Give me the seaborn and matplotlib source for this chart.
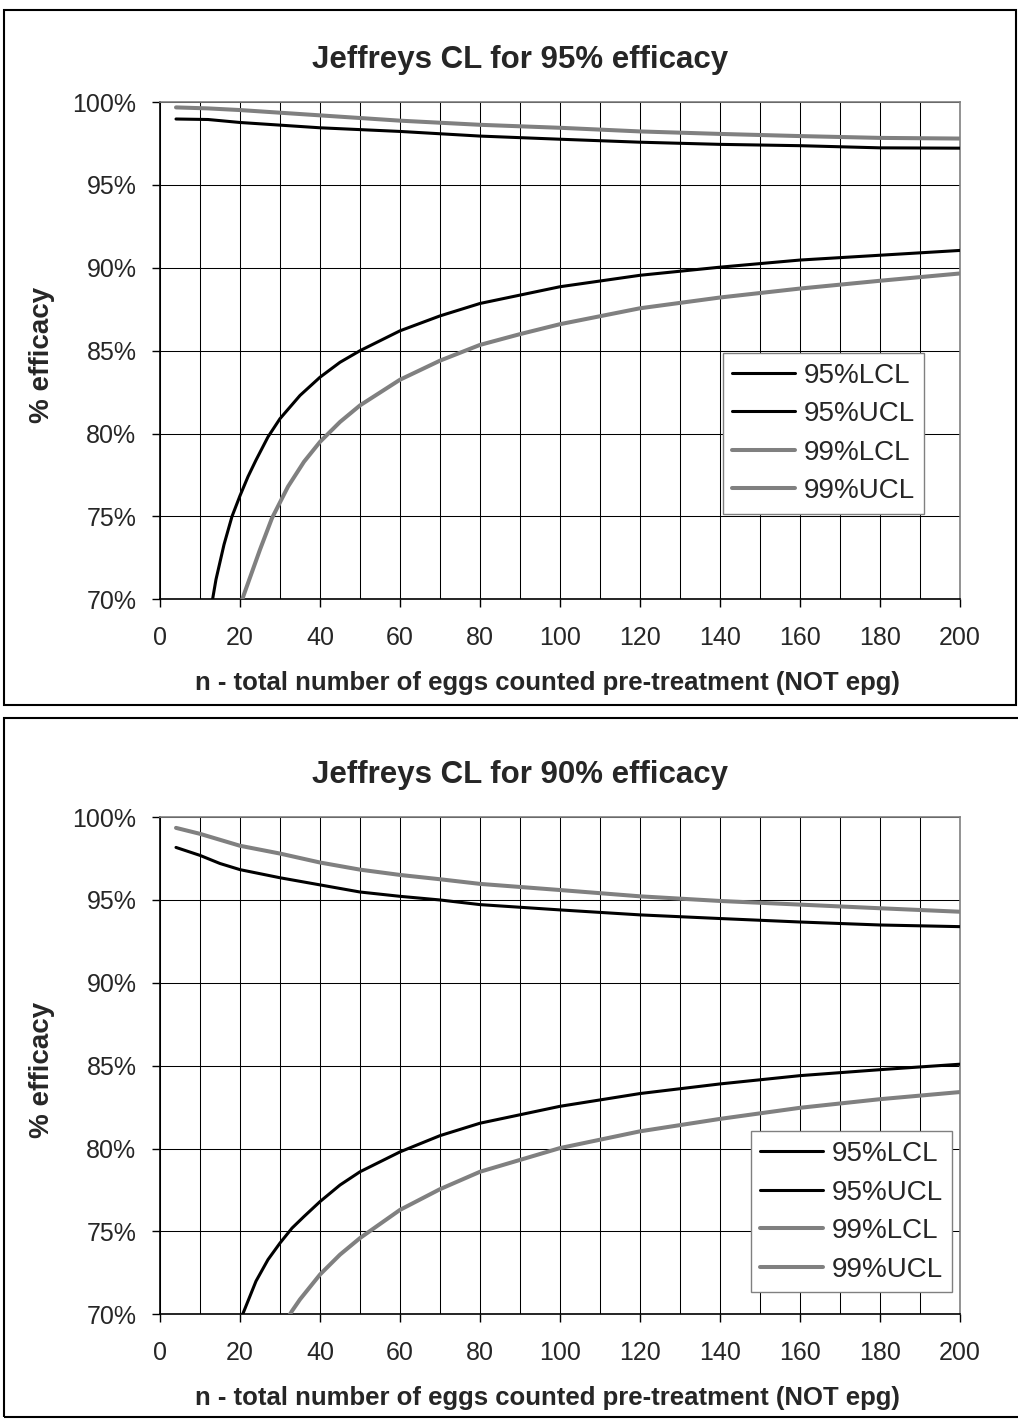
import matplotlib
matplotlib.use("Agg")
import matplotlib.pyplot as plt
from matplotlib.patches import Rectangle
from matplotlib.ticker import MultipleLocator, FuncFormatter
import seaborn as sns
import pandas as pd

# ---- data (n = eggs counted, values in % efficacy) ----
# panel 1: 95% efficacy
p1_ucl99_n = [4, 12, 20, 40, 60, 80, 100, 120, 140, 160, 180, 200]
p1_ucl99 = [99.68, 99.62, 99.52, 99.2, 98.88, 98.63, 98.45, 98.23, 98.08, 97.95, 97.84, 97.8]
p1_ucl95_n = [4, 12, 20, 40, 60, 80, 100, 120, 140, 160, 180, 200]
p1_ucl95 = [98.98, 98.95, 98.77, 98.45, 98.23, 97.95, 97.76, 97.58, 97.45, 97.37, 97.24, 97.22]
p1_lcl95_n = [13, 14, 16, 18, 20, 22, 24, 27, 30, 35, 40, 45, 50, 60, 70, 80, 100, 120, 140, 160, 180, 200]
p1_lcl95 = [69.8, 71.2, 73.3, 75.0, 76.25, 77.4, 78.4, 79.8, 80.9, 82.3, 83.4, 84.3, 85.0, 86.2,
            87.1, 87.85, 88.86, 89.55, 90.04, 90.47, 90.76, 91.05]
p1_lcl99_n = [20, 21, 25, 28, 32, 36, 40, 45, 50, 60, 70, 80, 90, 100, 120, 140, 160, 180, 200]
p1_lcl99 = [69.6, 70.3, 73.0, 74.9, 76.8, 78.3, 79.5, 80.7, 81.7, 83.25, 84.4, 85.35, 86.0, 86.6,
            87.56, 88.21, 88.75, 89.22, 89.66]

# panel 2: 90% efficacy
p2_ucl99_n = [4, 10, 20, 30, 40, 50, 60, 70, 80, 100, 120, 140, 160, 180, 200]
p2_ucl99 = [99.35, 98.99, 98.27, 97.8, 97.26, 96.83, 96.51, 96.25, 95.97, 95.6, 95.22, 94.94, 94.72, 94.5, 94.29]
p2_ucl95_n = [4, 10, 15, 20, 30, 40, 50, 60, 70, 80, 100, 120, 140, 160, 180, 200]
p2_ucl95 = [98.17, 97.69, 97.2, 96.83, 96.34, 95.91, 95.48, 95.22, 95.0, 94.72, 94.4, 94.1, 93.88,
            93.67, 93.49, 93.39]
p2_lcl95_n = [20, 21, 24, 27, 30, 33, 36, 40, 45, 50, 60, 70, 80, 100, 120, 140, 160, 180, 200]
p2_lcl95 = [69.6, 70.2, 72.0, 73.3, 74.3, 75.2, 75.9, 76.8, 77.8, 78.6, 79.8, 80.78, 81.53, 82.55,
            83.32, 83.9, 84.4, 84.76, 85.09]
p2_lcl99_n = [32, 33, 35, 40, 45, 50, 60, 70, 80, 100, 120, 140, 160, 180, 200]
p2_lcl99 = [69.8, 70.2, 70.9, 72.4, 73.6, 74.6, 76.3, 77.55, 78.6, 80.03, 81.04, 81.79, 82.46,
            82.98, 83.41]

titles = ["Jeffreys CL for 95% efficacy", "Jeffreys CL for 90% efficacy"]
series_names = ["95%LCL", "95%UCL", "99%LCL", "99%UCL"]

panels = [
    [(p1_lcl95_n, p1_lcl95), (p1_ucl95_n, p1_ucl95), (p1_lcl99_n, p1_lcl99), (p1_ucl99_n, p1_ucl99)],
    [(p2_lcl95_n, p2_lcl95), (p2_ucl95_n, p2_ucl95), (p2_lcl99_n, p2_lcl99), (p2_ucl99_n, p2_ucl99)],
]

sns.set_style("white")
plt.rcParams["font.family"] = ["Liberation Sans", "DejaVu Sans"]

W, H = 1018, 1420
fig = plt.figure(figsize=(W / 100, H / 100), dpi=100)

colors = {"95%LCL": "black", "95%UCL": "black", "99%LCL": "#808080", "99%UCL": "#808080"}
widths = {"95%LCL": 2.2, "95%UCL": 2.2, "99%LCL": 2.9, "99%UCL": 2.9}

shift = 715  # vertical offset of the second panel (px)
legend_pos = [(722.7, 352.9), (750.7, 1131.4)]

for i, (title, series) in enumerate(zip(titles, panels)):
    top_px = 102.1 + i * shift
    ax = fig.add_axes([160 / W, 1 - (top_px + 497.2) / H, 800 / W, 497.2 / H])

    for name, (n, v) in zip(series_names, series):
        df = pd.DataFrame({"n": n, "eff": v})
        sns.lineplot(data=df, x="n", y="eff", ax=ax, color=colors[name],
                     linewidth=widths[name], label=name, zorder=3)

    ax.set_xlim(0, 200)
    ax.set_ylim(70, 100)
    ax.xaxis.set_major_locator(MultipleLocator(20))
    ax.xaxis.set_minor_locator(MultipleLocator(10))
    ax.yaxis.set_major_locator(MultipleLocator(5))
    ax.yaxis.set_major_formatter(FuncFormatter(lambda v, p: f"{v:.0f}%"))
    ax.grid(True, which="both", axis="x", color="black", linewidth=0.75)
    ax.grid(True, which="major", axis="y", color="black", linewidth=0.75)
    ax.set_axisbelow(True)
    ax.set_xlabel("")
    ax.set_ylabel("")

    ax.tick_params(axis="both", which="major", direction="out", length=6, width=1,
                   color="black", labelsize=18)
    ax.tick_params(axis="x", which="major", pad=13, bottom=True)
    ax.tick_params(axis="y", which="major", pad=11, left=True)
    ax.tick_params(axis="x", which="minor", bottom=False)
    for side in ["top", "right"]:
        ax.spines[side].set_color("#808080")
        ax.spines[side].set_linewidth(1.2)
    for side in ["left", "bottom"]:
        ax.spines[side].set_color("black")
        ax.spines[side].set_linewidth(1.2)

    lx, ly = legend_pos[i]
    leg = ax.legend(loc="upper left", bbox_to_anchor=(lx / W, 1 - ly / H),
                    bbox_transform=fig.transFigure, borderaxespad=0, fontsize=20,
                    frameon=True, fancybox=False, framealpha=1, edgecolor="#808080",
                    handlelength=2.27, handletextpad=0.28, labelspacing=0.45,
                    borderpad=0.35)
    leg.get_frame().set_linewidth(1.0)

    fig.text(520 / W, 1 - (68 + i * shift) / H, title, ha="center", va="baseline",
             fontsize=22.5, fontweight="bold")
    fig.text(547 / W, 1 - (690 + i * shift) / H,
             "n - total number of eggs counted pre-treatment (NOT epg)",
             ha="center", va="baseline", fontsize=18.5, fontweight="bold")
    fig.text(42 / W, 1 - (355 + i * shift) / H, "% efficacy", rotation=90,
             ha="center", va="center", fontsize=20, fontweight="bold")

# panel frames
fig.add_artist(Rectangle((4 / W, 1 - 705 / H), 1012 / W, 695 / H, transform=fig.transFigure,
                         fill=False, edgecolor="black", linewidth=1.5))
fig.add_artist(Rectangle((4 / W, 1 - 1417 / H), 1020 / W, 699 / H, transform=fig.transFigure,
                         fill=False, edgecolor="black", linewidth=1.5))

fig.savefig("out.png", dpi=100)
